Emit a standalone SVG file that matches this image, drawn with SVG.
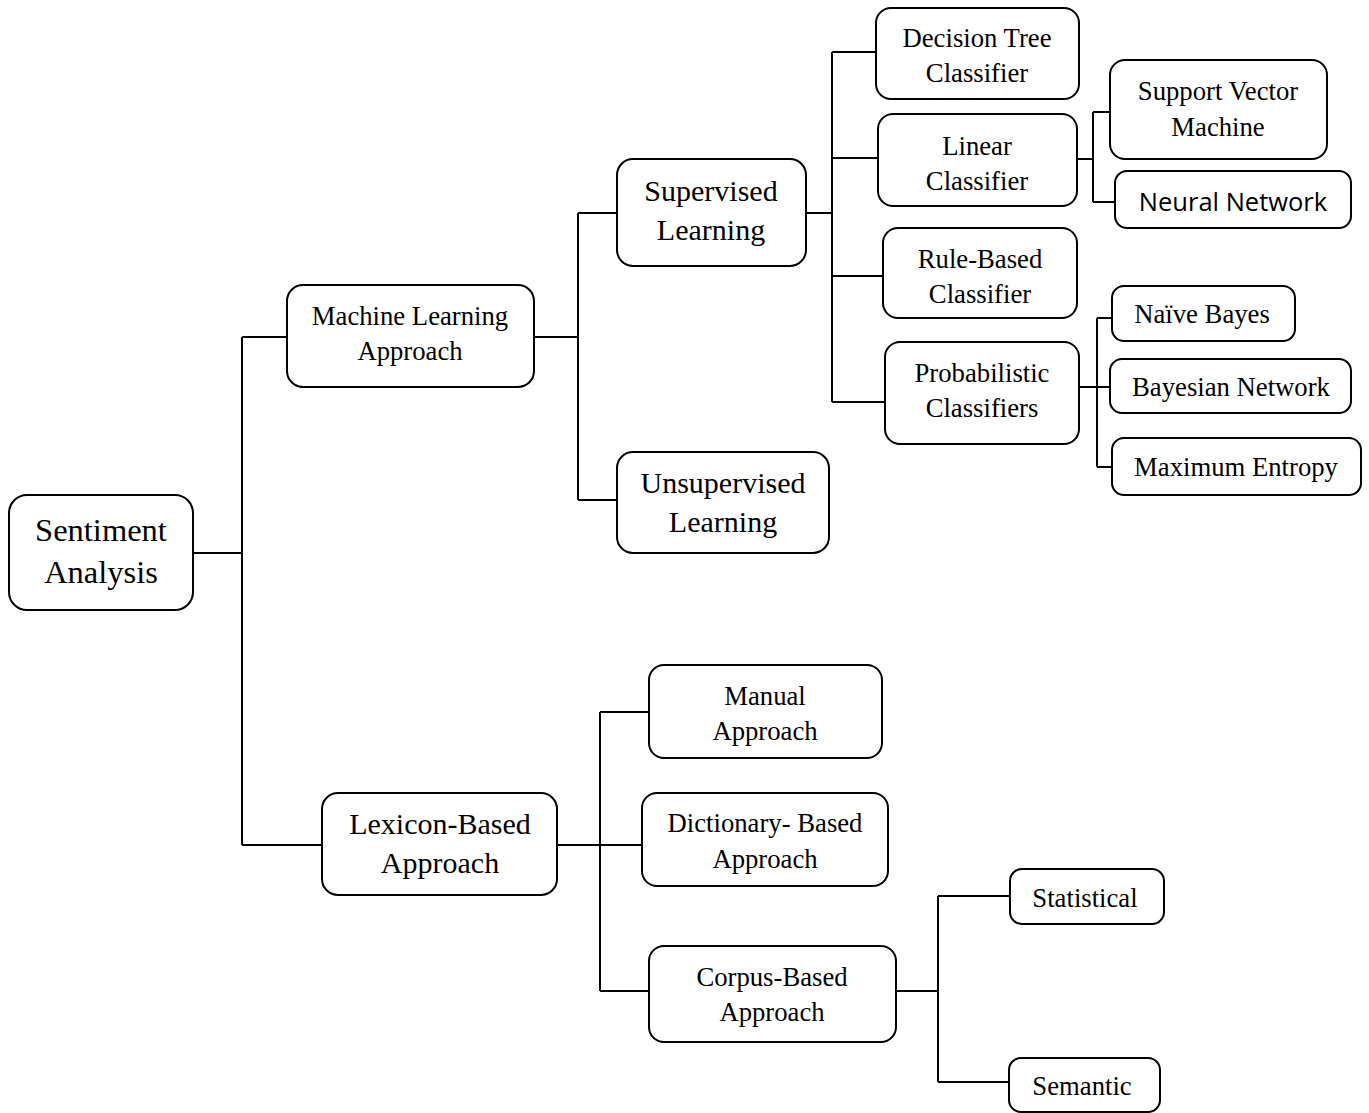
<svg xmlns="http://www.w3.org/2000/svg" width="1369" height="1113" viewBox="0 0 1369 1113">
<style>
.box{fill:#fff;stroke:#000;stroke-width:2}
.t{font-family:"Liberation Serif","Times New Roman",serif;fill:#000;text-anchor:middle;font-size:26.7px}
.t.l{font-size:30px}
.t.xl{font-size:32.5px}
.s{font-family:"Open Sans","Liberation Sans",sans-serif;fill:#000;text-anchor:middle;font-size:25.5px}
.c{fill:none;stroke:#000;stroke-width:2}
</style>
<rect width="1369" height="1113" fill="#fff"/>
<g id="connectors" class="c">
<path d="M193,553H242M242,337V845M242,337H287M242,845H322"/>
<path d="M534,337H578M578,213V500M578,213H617M578,500H617"/>
<path d="M806,213H832M832,52V402M832,52H876M832,158H878M832,276H883M832,402H885"/>
<path d="M1077,159H1093M1093,112V202M1093,112H1110M1093,202H1115"/>
<path d="M1079,387H1110M1097,318V467M1097,318H1112M1097,467H1112"/>
<path d="M557,845H642M600,712V991M600,712H649M600,991H649"/>
<path d="M896,991H938M938,896V1082M938,896H1010M938,1082H1009"/>
</g>
<g id="sentiment"><rect class="box" x="9" y="495" width="184" height="115" rx="18"/><text class="t xl" x="101" y="541">Sentiment</text><text class="t xl" x="101" y="583">Analysis</text></g>
<g id="ml"><rect class="box" x="287" y="285" width="247" height="102" rx="16"/><text class="t" x="410" y="325">Machine Learning</text><text class="t" x="410" y="360">Approach</text></g>
<g id="supervised"><rect class="box" x="617" y="159" width="189" height="107" rx="16"/><text class="t l" x="711" y="201">Supervised</text><text class="t l" x="711" y="240">Learning</text></g>
<g id="unsupervised"><rect class="box" x="617" y="452" width="212" height="101" rx="16"/><text class="t l" x="723" y="493">Unsupervised</text><text class="t l" x="723" y="532">Learning</text></g>
<g id="decision"><rect class="box" x="876" y="8" width="203" height="91" rx="15"/><text class="t" x="977" y="47">Decision Tree</text><text class="t" x="977" y="82">Classifier</text></g>
<g id="linear"><rect class="box" x="878" y="114" width="199" height="92" rx="15"/><text class="t" x="977" y="155">Linear</text><text class="t" x="977" y="190">Classifier</text></g>
<g id="rule"><rect class="box" x="883" y="228" width="194" height="90" rx="15"/><text class="t" x="980" y="268">Rule-Based</text><text class="t" x="980" y="303">Classifier</text></g>
<g id="prob"><rect class="box" x="885" y="342" width="194" height="102" rx="15"/><text class="t" x="982" y="382">Probabilistic</text><text class="t" x="982" y="417">Classifiers</text></g>
<g id="svm"><rect class="box" x="1110" y="60" width="217" height="99" rx="15"/><text class="t" x="1218" y="100">Support Vector</text><text class="t" x="1218" y="136">Machine</text></g>
<g id="nn"><rect class="box" x="1115" y="171" width="236" height="57" rx="12"/><text class="s" x="1233" y="211">Neural Network</text></g>
<g id="nb"><rect class="box" x="1112" y="286" width="183" height="55" rx="12"/><text class="t" x="1202" y="323">Naïve Bayes</text></g>
<g id="bn"><rect class="box" x="1110" y="359" width="241" height="54" rx="12"/><text class="t" x="1231" y="396">Bayesian Network</text></g>
<g id="me"><rect class="box" x="1112" y="438" width="249" height="57" rx="12"/><text class="t" x="1236" y="476">Maximum Entropy</text></g>
<g id="lexicon"><rect class="box" x="322" y="793" width="235" height="102" rx="16"/><text class="t l" x="440" y="834">Lexicon-Based</text><text class="t l" x="440" y="873">Approach</text></g>
<g id="manual"><rect class="box" x="649" y="665" width="233" height="93" rx="15"/><text class="t" x="765" y="705">Manual</text><text class="t" x="765" y="740">Approach</text></g>
<g id="dictionary"><rect class="box" x="642" y="793" width="246" height="93" rx="15"/><text class="t" x="765" y="832">Dictionary- Based</text><text class="t" x="765" y="868">Approach</text></g>
<g id="corpus"><rect class="box" x="649" y="946" width="247" height="96" rx="15"/><text class="t" x="772" y="986">Corpus-Based</text><text class="t" x="772" y="1021">Approach</text></g>
<g id="statistical"><rect class="box" x="1010" y="869" width="154" height="55" rx="12"/><text class="t" x="1085" y="907">Statistical</text></g>
<g id="semantic"><rect class="box" x="1009" y="1058" width="151" height="54" rx="12"/><text class="t" x="1082" y="1095">Semantic</text></g>
</svg>
